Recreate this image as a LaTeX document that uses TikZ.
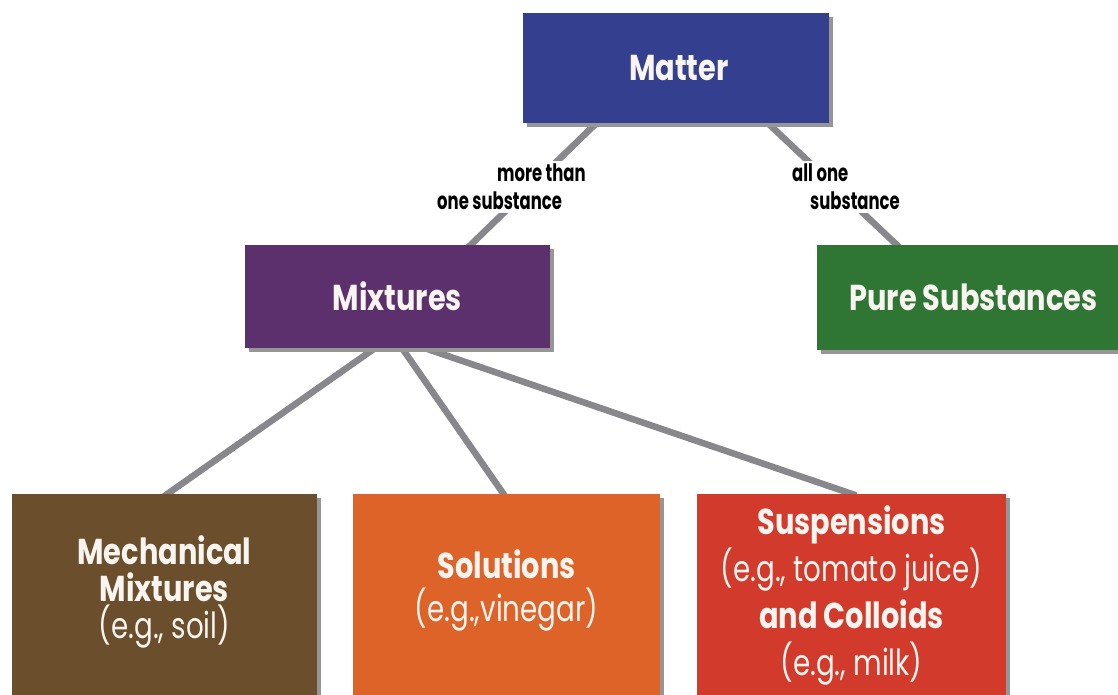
\documentclass[tikz,border=0pt]{standalone}
\usepackage{fontspec}
\setmainfont{Poppins}[UprightFeatures={FakeStretch=0.77}, BoldFeatures={FakeStretch=0.80}]
\newfontfamily\lblfont{Poppins}[FakeStretch=0.685]
\usetikzlibrary{shadows,calc,backgrounds}
\definecolor{matterc}{RGB}{52,64,143}
\definecolor{mixc}{RGB}{92,48,108}
\definecolor{purec}{RGB}{47,118,53}
\definecolor{mechc}{RGB}{107,78,44}
\definecolor{solc}{RGB}{222,99,40}
\definecolor{suspc}{RGB}{210,58,43}
\definecolor{linegray}{RGB}{135,135,140}
\definecolor{shadowgray}{RGB}{150,150,150}
\definecolor{textwhite}{RGB}{248,244,240}
\begin{document}
\begin{tikzpicture}[x=1pt,y=-1pt,
  box/.style={rectangle, inner sep=0pt, text=textwhite, align=center, draw=none,
    drop shadow={shadow xshift=4pt, shadow yshift=-4pt, fill=shadowgray, opacity=1}},
  titlefont/.style={font=\bfseries\fontsize{36}{40}\selectfont},
  link/.style={draw=linegray, line width=6.5pt, shorten <=-5pt, shorten >=-5pt},
  lbl/.style={fill=white, inner sep=3pt, align=left, text=black,
    font=\lblfont\bfseries\fontsize{24}{28}\selectfont}]
\useasboundingbox (0,0) rectangle (1118,695);
\clip (0,0) rectangle (1118,695);

\node[box, titlefont, fill=matterc, minimum width=306pt, minimum height=110pt] (matter) at (676,68) {\hspace*{6pt}Matter};
\node[box, titlefont, fill=mixc, minimum width=305pt, minimum height=103pt] (mixtures) at (397.5,296.5) {Mixtures};
\node[box, titlefont, fill=purec, minimum width=313pt, minimum height=105pt] (pure) at (973.5,297.5) {Pure Substances};

\node[box, fill=mechc, minimum width=305pt, minimum height=202pt,
  font=\fontsize{36}{37}\selectfont] (mech) at (164.5,595)
  {\textbf{Mechanical}\\\textbf{Mixtures}\\(e.g., soil)\rule[-16pt]{0pt}{16pt}};
\node[box, fill=solc, minimum width=307pt, minimum height=202pt,
  font=\fontsize{36}{43}\selectfont] (sol) at (506.5,595)
  {\textbf{Solutions}\\(e.g.,vinegar)\rule[-18pt]{0pt}{18pt}};
\node[box, fill=suspc, minimum width=309pt, minimum height=202pt,
  font=\fontsize{36}{47}\selectfont] (susp) at (851.5,595)
  {\textbf{Suspensions}\\(e.g., tomato juice)\\\textbf{and Colloids}\\(e.g., milk)\rule[-7pt]{0pt}{7pt}};

\begin{scope}[on background layer]
  \draw[link] ($(matter.south west)!0.24!(matter.south east)$) -- ($(mixtures.north west)!0.74!(mixtures.north east)$);
  \draw[link] ($(matter.south west)!0.80!(matter.south east)$) -- ($(pure.north west)!0.255!(pure.north east)$);
  \draw[link] ($(mixtures.south west)!0.426!(mixtures.south east)$) -- ($(mech.north west)!0.51!(mech.north east)$);
  \draw[link] ($(mixtures.south west)!0.515!(mixtures.south east)$) -- ($(sol.north west)!0.49!(sol.north east)$);
  \draw[link] ($(mixtures.south west)!0.59!(mixtures.south east)$) -- ($(susp.north west)!0.50!(susp.north east)$);
\end{scope}

\node[lbl, anchor=north west] (lblmore) at (434,161) {\hspace*{60pt}more than\\one substance};
\node[lbl, anchor=north west] (lblone) at (789,161) {all one\\\hspace*{18pt}substance};
\end{tikzpicture}
\end{document}
